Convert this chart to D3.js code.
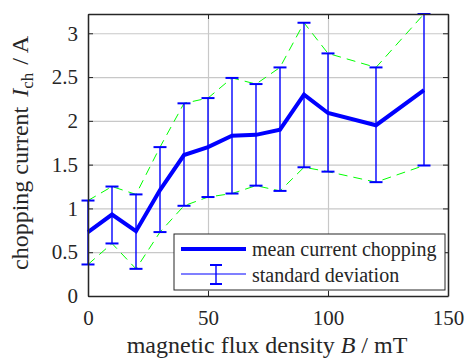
<!DOCTYPE html>
<html>
<head>
<meta charset="utf-8">
<script src="https://cdn.jsdelivr.net/npm/d3@7"></script>
<style>
  body { margin: 0; background: #fff; }
  svg text { font-family: "Liberation Serif", "Times New Roman", serif; }
</style>
</head>
<body>
<div id="chart"></div>
<script>
// magnetic flux density B in mT
var bField = [0, 10, 20, 30, 40, 50, 60, 70, 80, 90, 100, 120, 140];
// mean chopping current in A
var meanCurrent = [0.73, 0.93, 0.74, 1.21, 1.61, 1.70, 1.83, 1.84, 1.90, 2.30, 2.09, 1.95, 2.35];
// mean +/- standard deviation
var upperBound = [1.09, 1.25, 1.16, 1.70, 2.20, 2.26, 2.49, 2.42, 2.61, 3.12, 2.77, 2.61, 3.22];
var lowerBound = [0.36, 0.60, 0.31, 0.73, 1.03, 1.13, 1.17, 1.26, 1.20, 1.47, 1.42, 1.30, 1.49];

var xTicks = [0, 50, 100, 150];
var yTicks = [0, 0.5, 1, 1.5, 2, 2.5, 3];
var legendLabels = ["mean current chopping", "standard deviation"];

var svgWidth = 467;
var svgHeight = 360;
var margin = {top: 14, right: 19, bottom: 64, left: 88};
var width = svgWidth - margin.left - margin.right;
var height = svgHeight - margin.top - margin.bottom;
var serif = "'Liberation Serif', 'Times New Roman', serif";
var axisColor = "#262626";

var svg = d3.select("#chart").append("svg")
  .attr("width", svgWidth)
  .attr("height", svgHeight);

var chartGroup = svg.append("g")
  .attr("transform", `translate(${margin.left}, ${margin.top})`);

var xScale = d3.scaleLinear().domain([0, 150]).range([0, width]);
var yScale = d3.scaleLinear().domain([0, 3.22]).range([height, 0]);

var rows = bField.map((b, i) => ({b: b, m: meanCurrent[i], hi: upperBound[i], lo: lowerBound[i]}));

// grid lines
chartGroup.append("g")
  .attr("transform", `translate(0, ${height})`)
  .call(d3.axisBottom(xScale).tickValues(xTicks).tickSize(-height).tickFormat(""))
  .call(g => g.select(".domain").remove())
  .selectAll("line").attr("stroke", "#c8c8c8").attr("stroke-width", 1.2);
chartGroup.append("g")
  .call(d3.axisLeft(yScale).tickValues(yTicks).tickSize(-width).tickFormat(""))
  .call(g => g.select(".domain").remove())
  .selectAll("line").attr("stroke", "#c8c8c8").attr("stroke-width", 1.2);

// dashed green envelope
var envLine = d3.line().x(d => xScale(d[0])).y(d => yScale(d[1]));
[upperBound, lowerBound].forEach(function(arr) {
  chartGroup.append("path")
    .datum(bField.map((b, i) => [b, arr[i]]))
    .attr("d", envLine)
    .attr("fill", "none")
    .attr("stroke", "#00ff00")
    .attr("stroke-width", 1)
    .attr("stroke-dasharray", "9,6");
});

// error bars
var capW = 6.5;
var bars = chartGroup.selectAll("g.ebar").data(rows).enter().append("g").attr("class", "ebar")
  .attr("stroke", "#0000ff").attr("stroke-width", 1.4);
bars.append("line")
  .attr("x1", d => xScale(d.b)).attr("x2", d => xScale(d.b))
  .attr("y1", d => yScale(d.lo)).attr("y2", d => yScale(d.hi));
bars.append("line")
  .attr("x1", d => xScale(d.b) - capW).attr("x2", d => xScale(d.b) + capW)
  .attr("y1", d => yScale(d.hi)).attr("y2", d => yScale(d.hi)).attr("stroke-width", 2);
bars.append("line")
  .attr("x1", d => xScale(d.b) - capW).attr("x2", d => xScale(d.b) + capW)
  .attr("y1", d => yScale(d.lo)).attr("y2", d => yScale(d.lo)).attr("stroke-width", 2);

// mean line
chartGroup.append("path")
  .datum(rows)
  .attr("d", d3.line().x(d => xScale(d.b)).y(d => yScale(d.m)))
  .attr("fill", "none")
  .attr("stroke", "#0000ff")
  .attr("stroke-width", 4);

// axes: box with ticks pointing inward
var xAxis = chartGroup.append("g")
  .attr("transform", `translate(0, ${height})`)
  .call(d3.axisBottom(xScale).tickValues(xTicks).tickSizeInner(-5).tickSizeOuter(0).tickPadding(14));
var yAxis = chartGroup.append("g")
  .call(d3.axisLeft(yScale).tickValues(yTicks).tickSizeInner(-5).tickSizeOuter(0).tickPadding(10).tickFormat(d3.format("")));
var topAxis = chartGroup.append("g")
  .call(d3.axisTop(xScale).tickValues(xTicks).tickSizeInner(-5).tickSizeOuter(0).tickFormat(""));
var rightAxis = chartGroup.append("g")
  .attr("transform", `translate(${width}, 0)`)
  .call(d3.axisRight(yScale).tickValues(yTicks).tickSizeInner(-5).tickSizeOuter(0).tickFormat(""));
[xAxis, yAxis, topAxis, rightAxis].forEach(function(a) {
  a.attr("font-family", null);
  a.select(".domain").attr("stroke", axisColor).attr("stroke-width", 1.5);
  a.selectAll(".tick line").attr("stroke", axisColor).attr("stroke-width", 1);
  a.selectAll("text")
    .style("font-family", serif)
    .attr("font-size", 21)
    .attr("fill", axisColor);
});

// axis titles
var xTitle = svg.append("text")
  .attr("x", 267)
  .attr("y", 353)
  .attr("text-anchor", "middle")
  .style("font-family", serif)
  .attr("font-size", 24)
  .attr("fill", axisColor);
xTitle.append("tspan").text("magnetic flux density ");
xTitle.append("tspan").attr("font-style", "italic").text("B");
xTitle.append("tspan").text(" / mT");

var yTitle = svg.append("text")
  .attr("transform", "translate(28, 153) rotate(-90)")
  .attr("text-anchor", "middle")
  .style("font-family", serif)
  .attr("font-size", 24)
  .attr("fill", axisColor);
yTitle.append("tspan").text("chopping current");
yTitle.append("tspan").attr("dx", 10).attr("font-style", "italic").text("I");
yTitle.append("tspan").attr("font-size", 17).attr("dy", 5).text("ch");
yTitle.append("tspan").attr("dx", 8).attr("dy", -5).text("/ A");

// legend
var legend = svg.append("g").attr("transform", "translate(174, 234)");
legend.append("rect")
  .attr("width", 271).attr("height", 56)
  .attr("fill", "#fff").attr("stroke", axisColor).attr("stroke-width", 1);
legend.append("line")
  .attr("x1", 7).attr("x2", 72).attr("y1", 15).attr("y2", 15)
  .attr("stroke", "#0000ff").attr("stroke-width", 4);
var lg = legend.append("g").attr("stroke", "#0000ff");
lg.append("line").attr("x1", 7).attr("x2", 72).attr("y1", 40).attr("y2", 40).attr("stroke-width", 1.2);
lg.append("line").attr("x1", 42).attr("x2", 42).attr("y1", 31).attr("y2", 50).attr("stroke-width", 1.4);
lg.append("line").attr("x1", 36).attr("x2", 48).attr("y1", 31).attr("y2", 31).attr("stroke-width", 2);
lg.append("line").attr("x1", 36).attr("x2", 48).attr("y1", 50).attr("y2", 50).attr("stroke-width", 2);
legend.selectAll("text.lab").data(legendLabels).enter().append("text")
  .attr("class", "lab")
  .attr("x", 78)
  .attr("y", (d, i) => 22 + i * 26)
  .style("font-family", serif)
  .attr("font-size", 20)
  .attr("fill", axisColor)
  .text(d => d);
</script>
</body>
</html>
